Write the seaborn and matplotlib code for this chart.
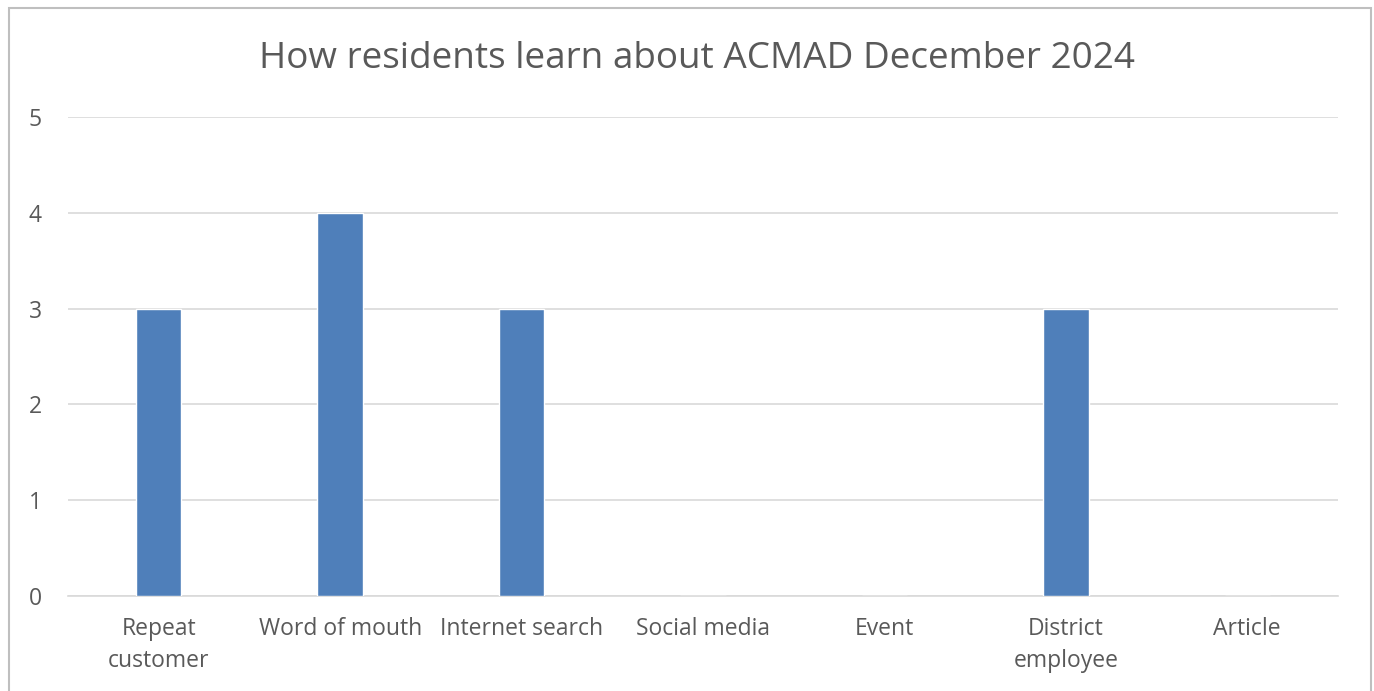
import matplotlib
matplotlib.use("Agg")
import matplotlib.pyplot as plt
import seaborn as sns
import pandas as pd
from matplotlib.patches import Rectangle

categories = ["Repeat\ncustomer", "Word of mouth", "Internet search", "Social media", "Event", "District\nemployee", "Article"]
counts = [3, 4, 3, 0, 0, 3, 0]
title = "How residents learn about ACMAD December 2024"
yticks = [0, 1, 2, 3, 4, 5]

sns.set_theme(style="white")
plt.rcParams['font.family'] = ['Open Sans', 'DejaVu Sans']

df = pd.DataFrame({"category": categories, "count": counts})

fig = plt.figure(figsize=(13.74, 6.91), dpi=100)
ax = fig.add_axes([68/1374, 1-596/691, (1338-68)/1374, (596-117)/691])

sns.barplot(data=df, x="category", y="count", color="#4F7FBA", width=0.25, ax=ax, zorder=3, saturation=1)

ax.set_ylim(0, 5)
ax.set_yticks(yticks)
ax.set_xlim(-0.5, len(categories)-0.5)
ax.yaxis.grid(True, color="#d9d9d9", linewidth=1.2, zorder=0)
ax.set_axisbelow(True)
for s in ["top", "right", "left"]:
    ax.spines[s].set_visible(False)
ax.spines["bottom"].set_color("#d9d9d9")
ax.spines["bottom"].set_linewidth(1.2)
ax.tick_params(axis="both", length=0, colors="#595959", labelsize=16.5)
ax.tick_params(axis="x", pad=15)
ax.tick_params(axis="y", pad=19)
ax.set_xlabel("")
ax.set_ylabel("")
for lbl in ax.get_xticklabels() + ax.get_yticklabels():
    lbl.set_color("#595959")
for lbl in ax.get_xticklabels():
    lbl.set_linespacing(1.45)

fig.text(697/1374, 1-59/691, title, ha="center", va="center", fontsize=26.6, color="#595959")

fig.patches.append(Rectangle((9/1374, -0.05), (1371-9)/1374, 1.05-8/691, transform=fig.transFigure,
                             fill=False, edgecolor="#bfbfbf", linewidth=1.5))

fig.savefig("out.png", dpi=100)
